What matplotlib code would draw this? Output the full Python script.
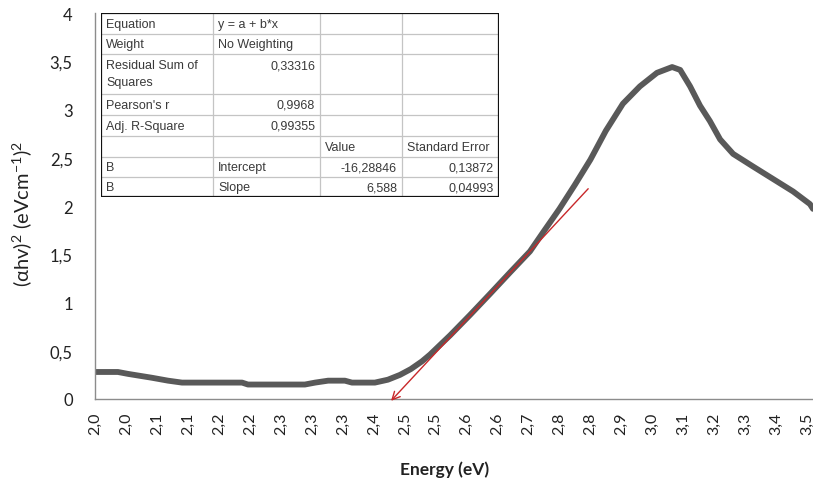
# Tauc plot with linear fit table (Excel-style category axis)
import matplotlib
matplotlib.use('Agg')
import matplotlib.pyplot as plt
from matplotlib.patches import Rectangle

plt.rcParams['font.family'] = ['Lato', 'DejaVu Sans']
plt.rcParams['mathtext.default'] = 'regular'

# category tick labels (energy, eV)
energy_labels = ['2,0', '2,0', '2,1', '2,1', '2,2', '2,2', '2,3', '2,3', '2,3', '2,4', '2,5', '2,5',
                 '2,6', '2,6', '2,7', '2,8', '2,8', '2,9', '3,0', '3,1', '3,2', '3,3', '3,4', '3,5']
y_ticks = [0, 0.5, 1, 1.5, 2, 2.5, 3, 3.5, 4]
y_labels = ['0', '0,5', '1', '1,5', '2', '2,5', '3', '3,5', '4']

# curve, position in category units / (ahv)^2
curve_pos = [0.0, 0.74, 1.07, 1.84, 2.36, 2.81, 4.75, 4.94, 6.78, 7.11, 7.53, 8.07, 8.30, 9.04,
             9.46, 9.85, 10.2, 10.56, 10.82, 11.47, 12.11, 12.76, 13.40, 14.05, 14.5,
             15.0, 15.5, 16.0, 16.5, 17.05, 17.60, 18.15, 18.64, 18.90, 19.22, 19.54, 19.86,
             20.19, 20.61, 21.25, 21.90, 22.55, 23.09, 23.19]
curve_val = [0.28, 0.28, 0.26, 0.22, 0.19, 0.17, 0.17, 0.15, 0.15, 0.17, 0.19, 0.19, 0.17, 0.17,
             0.20, 0.25, 0.31, 0.39, 0.46, 0.66, 0.87, 1.09, 1.31, 1.53, 1.74,
             1.97, 2.22, 2.48, 2.78, 3.06, 3.24, 3.38, 3.44, 3.41, 3.24, 3.04, 2.88,
             2.69, 2.54, 2.41, 2.28, 2.15, 2.02, 1.97]

# linear fit line (drawn as arrow), start -> tip
fit_pos = [15.99, 9.50]
fit_val = [2.20, -0.04]

# fit result table
table_rows = [
    ['Equation', 'y = a + b*x', '', ''],
    ['Weight', 'No Weighting', '', ''],
    ['Residual Sum of\nSquares', '0,33316', '', ''],
    ["Pearson's r", '0,9968', '', ''],
    ['Adj. R-Square', '0,99355', '', ''],
    ['', '', 'Value', 'Standard Error'],
    ['B', 'Intercept', '-16,28846', '0,13872'],
    ['B', 'Slope', '6,588', '0,04993'],
]
right_cells = {(2, 1), (3, 1), (4, 1), (6, 2), (6, 3), (7, 2), (7, 3)}

W, H = 813, 485
fig = plt.figure(figsize=(W / 100, H / 100), dpi=100)
ax = fig.add_axes([95 / W, 85 / H, 718 / W, 386 / H])

ax.plot(curve_pos, curve_val, color='#595959', lw=4.2, solid_capstyle='round',
        solid_joinstyle='round', zorder=2)
ax.annotate('', xy=(fit_pos[1], fit_val[1]), xytext=(fit_pos[0], fit_val[0]),
            arrowprops=dict(arrowstyle='->', color='#c8282a', lw=1.0, mutation_scale=14),
            annotation_clip=False, zorder=3)

ax.set_xlim(0, 23.19)
ax.set_ylim(0, 4)
ax.set_xticks(range(len(energy_labels)))
ax.set_xticklabels(energy_labels, rotation=90, fontsize=11.5)
ax.set_yticks(y_ticks)
ax.set_yticklabels(y_labels, fontsize=12)
ax.tick_params(axis='x', length=0, pad=9, colors='#222222')
ax.tick_params(axis='y', length=0, pad=16, colors='#222222')
for s in ['top', 'right']:
    ax.spines[s].set_visible(False)
for s in ['left', 'bottom']:
    ax.spines[s].set_color('#8c8c8c')
    ax.spines[s].set_linewidth(1.0)

fig.text(445 / W, 1 - 470 / H, 'Energy (eV)', fontsize=12.5, fontweight='bold',
         ha='center', va='center', color='#222222')
fig.text(22 / W, 1 - 214 / H, '(αhv)$^2$ (eVcm$^{-1}$)$^2$', fontsize=14.5, rotation=90,
         ha='center', va='center', color='#222222')

# table, in pixel units of the figure
cols = [101, 213, 320, 402, 499]
rows = [14, 35, 55, 95, 116, 137, 158, 178, 198]
tax = fig.add_axes([cols[0] / W, 1 - rows[-1] / H, (cols[-1] - cols[0]) / W, (rows[-1] - rows[0]) / H])
tax.set_xlim(cols[0], cols[-1])
tax.set_ylim(rows[-1], rows[0])
tax.axis('off')
tax.add_patch(Rectangle((cols[0], rows[0]), cols[-1] - cols[0], rows[-1] - rows[0],
                        facecolor='white', edgecolor='none', zorder=0))
for c in cols[1:-1]:
    tax.plot([c, c], [rows[0], rows[-1]], color='#c4c4c4', lw=0.9, zorder=1)
for r in rows[1:-1]:
    tax.plot([cols[0], cols[-1]], [r, r], color='#c4c4c4', lw=0.9, zorder=1)
tax.add_patch(Rectangle((cols[0], rows[0]), cols[-1] - cols[0], rows[-1] - rows[0],
                        facecolor='none', edgecolor='#111111', lw=1.6, zorder=2))
fs = 9
for i, row in enumerate(table_rows):
    for j, txt in enumerate(row):
        if not txt:
            continue
        if i == 2:
            y = rows[i] + 11
            if '\n' in txt:
                a, b = txt.split('\n')
                tax.text(cols[j] + 5, y, a, fontsize=fs, family='Liberation Sans',
                         color='#3a3a3a', ha='left', va='center')
                tax.text(cols[j] + 5, y + 17, b, fontsize=fs, family='Liberation Sans',
                         color='#3a3a3a', ha='left', va='center')
                continue
        else:
            y = (rows[i] + rows[i + 1]) / 2
        if (i, j) in right_cells:
            tax.text(cols[j + 1] - 5, y, txt, fontsize=fs, family='Liberation Sans',
                     color='#3a3a3a', ha='right', va='center')
        else:
            tax.text(cols[j] + 5, y, txt, fontsize=fs, family='Liberation Sans',
                     color='#3a3a3a', ha='left', va='center')

fig.savefig('out.png', dpi=100)
